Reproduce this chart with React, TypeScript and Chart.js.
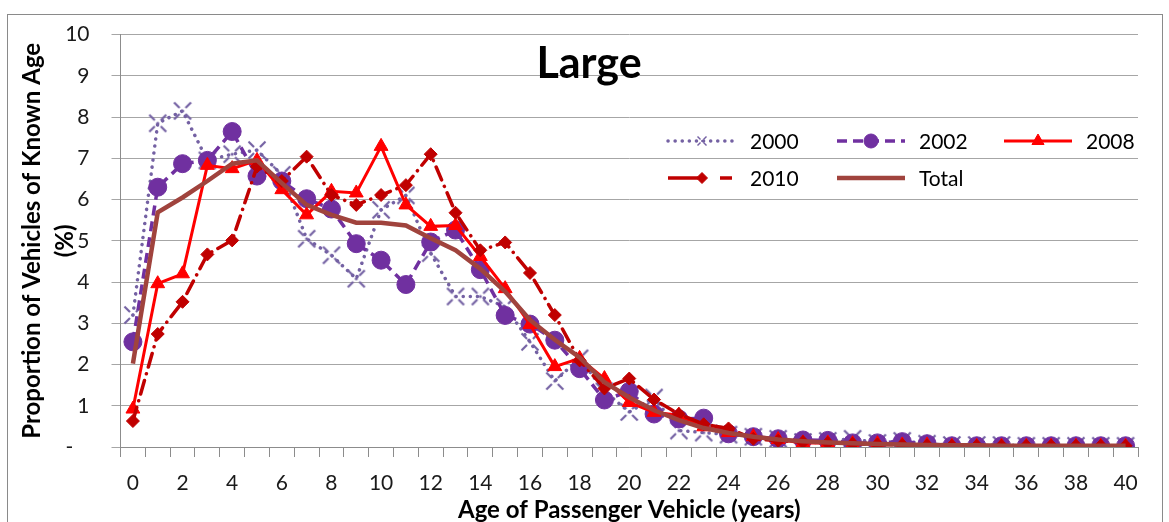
import React, { useEffect, useRef } from 'react';
import { Chart, registerables } from 'chart.js';

Chart.register(...registerables);

const FONT = 'Lato, "Open Sans", sans-serif';

const ages = [
  '0', '1', '2', '3', '4', '5', '6', '7', '8', '9', '10',
  '11', '12', '13', '14', '15', '16', '17', '18', '19', '20',
  '21', '22', '23', '24', '25', '26', '27', '28', '29', '30',
  '31', '32', '33', '34', '35', '36', '37', '38', '39', '40',
];

const s2000 = [
  3.2, 7.85, 8.15, 6.95, 7.1, 7.2, 6.6, 5.05, 4.65, 4.08, 5.75,
  6.1, 4.7, 3.65, 3.65, 3.4, 2.55, 1.6, 2.15, 1.35, 0.85,
  1.2, 0.4, 0.35, 0.3, 0.25, 0.2, 0.12, 0.15, 0.2, 0.1,
  0.15, 0.08, 0.05, 0.05, 0.05, 0.03, 0.03, 0.03, 0.03, 0.03,
];

const s2002 = [
  2.55, 6.3, 6.87, 6.95, 7.65, 6.57, 6.45, 6.02, 5.77, 4.93, 4.53,
  3.94, 4.97, 5.26, 4.3, 3.19, 2.98, 2.59, 1.9, 1.14, 1.35,
  0.8, 0.68, 0.7, 0.32, 0.25, 0.2, 0.17, 0.16, 0.1, 0.1,
  0.13, 0.08, 0.03, 0.03, 0.03, 0.03, 0.03, 0.03, 0.03, 0.03,
];

const s2008 = [
  0.92, 3.96, 4.2, 6.83, 6.75, 6.95, 6.24, 5.63, 6.2, 6.16, 7.29,
  5.87, 5.35, 5.37, 4.62, 3.84, 2.97, 1.95, 2.15, 1.66, 1.08,
  0.84, 0.77, 0.49, 0.35, 0.25, 0.18, 0.1, 0.1, 0.08, 0.08,
  0.05, 0.05, 0.02, 0.02, 0.02, 0.02, 0.02, 0.02, 0.02, 0.02,
];

const s2010 = [
  0.63, 2.74, 3.52, 4.67, 5.01, 6.8, 6.45, 7.04, 6.11, 5.87, 6.11,
  6.35, 7.1, 5.68, 4.77, 4.96, 4.22, 3.2, 2.1, 1.42, 1.66,
  1.15, 0.8, 0.55, 0.45, 0.2, 0.15, 0.12, 0.1, 0.08, 0.06,
  0.05, 0.04, 0.03, 0.03, 0.03, 0.03, 0.03, 0.03, 0.03, 0.03,
];

const sTotal = [
  2.02, 5.69, 6.05, 6.45, 6.87, 6.95, 6.4, 5.87, 5.63, 5.44, 5.44,
  5.37, 5.06, 4.77, 4.32, 3.77, 3.08, 2.6, 2.17, 1.57, 1.2,
  0.89, 0.65, 0.46, 0.34, 0.25, 0.18, 0.14, 0.11, 0.09, 0.07,
  0.06, 0.05, 0.04, 0.04, 0.03, 0.03, 0.03, 0.03, 0.03, 0.03,
];

const seriesNames = ['2000', '2002', '2008', '2010', 'Total'];
const chartTitle = 'Large';
const xTitle = 'Age of Passenger Vehicle (years)';
const yTitle = ['Proportion of Vehicles of Known Age', '(%)'];

const C2000 = '#7461A3';
const C2002 = '#7030A0';
const C2008 = '#FF0000';
const C2010 = '#C00000';
const CTOT = '#A0433D';

function makeXMarker(color: string, size: number, small: boolean) {
  const c = document.createElement('canvas');
  c.width = size;
  c.height = size;
  const ctx = c.getContext('2d')!;
  const m = size / 2;
  const r = m - 1.5;
  ctx.strokeStyle = color;
  ctx.fillStyle = color;
  ctx.lineWidth = small ? 1.4 : 2.2;
  ctx.lineCap = 'butt';
  const dirs = [[1, 1], [1, -1], [-1, 1], [-1, -1]];
  const inner = small ? 1.5 : 3;
  for (const [dx, dy] of dirs) {
    const k = Math.SQRT1_2;
    ctx.beginPath();
    ctx.moveTo(m + dx * inner * k * 1.4, m + dy * inner * k * 1.4);
    ctx.lineTo(m + dx * r, m + dy * r);
    ctx.stroke();
  }
  ctx.beginPath();
  ctx.arc(m, m, small ? 1 : 1.6, 0, Math.PI * 2);
  ctx.fill();
  return c;
}

function drawMarker(ctx: CanvasRenderingContext2D, style: string, x: number, y: number, r: number, color: string) {
  ctx.save();
  ctx.setLineDash([]);
  ctx.fillStyle = color;
  ctx.strokeStyle = color;
  ctx.lineWidth = 1;
  ctx.beginPath();
  if (style === 'circle') {
    ctx.arc(x, y, r, 0, Math.PI * 2);
  } else if (style === 'triangle') {
    ctx.moveTo(x, y - r);
    ctx.lineTo(x + r * 0.866, y + r * 0.5);
    ctx.lineTo(x - r * 0.866, y + r * 0.5);
    ctx.closePath();
  } else if (style === 'diamond') {
    ctx.moveTo(x, y - r);
    ctx.lineTo(x + r, y);
    ctx.lineTo(x, y + r);
    ctx.lineTo(x - r, y);
    ctx.closePath();
  }
  ctx.fill();
  ctx.stroke();
  ctx.restore();
}

export default function App() {
  const ref = useRef<HTMLCanvasElement | null>(null);

  useEffect(() => {
    if (!ref.current) return;
    const xMarker = makeXMarker(C2000, 20, false);
    const xMarkerSmall = makeXMarker(C2000, 12, true);

    const legendPlugin = {
      id: 'customLegend',
      afterDatasetsDraw(chart: any) {
        const ctx: CanvasRenderingContext2D = chart.ctx;
        const items = [
          { name: seriesNames[0], x: 668, y: 141, color: C2000, width: 3.5, dash: [0.1, 7], cap: 'round', marker: 'x', r: 6 },
          { name: seriesNames[1], x: 837, y: 141, color: C2002, width: 3.5, dash: [10, 6], cap: 'butt', marker: 'circle', r: 7 },
          { name: seriesNames[2], x: 1004, y: 141, color: C2008, width: 3, dash: [], cap: 'butt', marker: 'triangle', r: 7 },
          { name: seriesNames[3], x: 668, y: 178, color: C2010, width: 3.5, dash: [30, 22, 12, 4], cap: 'butt', marker: 'diamond', r: 5.5 },
          { name: seriesNames[4], x: 837, y: 178, color: CTOT, width: 4.5, dash: [], cap: 'butt', marker: '', r: 0 },
        ];
        ctx.save();
        for (const it of items) {
          ctx.save();
          ctx.strokeStyle = it.color;
          ctx.lineWidth = it.width;
          ctx.lineCap = it.cap as CanvasLineCap;
          ctx.setLineDash(it.dash);
          ctx.beginPath();
          ctx.moveTo(it.x, it.y);
          ctx.lineTo(it.x + 68, it.y);
          ctx.stroke();
          ctx.restore();
          const mx = it.x + 34;
          if (it.marker === 'x') {
            ctx.drawImage(xMarkerSmall, mx - 6, it.y - 6);
          } else if (it.marker) {
            drawMarker(ctx, it.marker, mx, it.y, it.r, it.color);
          }
          ctx.fillStyle = '#000';
          ctx.font = `21px ${FONT}`;
          ctx.textAlign = 'left';
          ctx.textBaseline = 'middle';
          ctx.fillText(it.name, it.x + 82, it.y + 1);
        }
        ctx.fillStyle = '#000';
        ctx.font = `bold 43px ${FONT}`;
        ctx.textAlign = 'center';
        ctx.textBaseline = 'middle';
        ctx.fillText(chartTitle, 589, 64);
        ctx.restore();
      },
    };

    const chart = new Chart(ref.current, {
      type: 'line',
      data: {
        labels: ages,
        datasets: [
          {
            label: seriesNames[0], data: s2000, borderColor: C2000, backgroundColor: C2000,
            borderWidth: 3.5, borderDash: [0.1, 7], borderCapStyle: 'round',
            pointStyle: xMarker as any, pointRadius: 10, pointHoverRadius: 10, order: 4, tension: 0,
          },
          {
            label: seriesNames[1], data: s2002, borderColor: C2002, backgroundColor: C2002,
            borderWidth: 3.5, borderDash: [10, 6], pointStyle: 'circle',
            pointRadius: 9, pointBorderWidth: 1, pointBorderColor: C2002, pointBackgroundColor: C2002, order: 3, tension: 0,
          },
          {
            label: seriesNames[2], data: s2008, borderColor: C2008, backgroundColor: C2008,
            borderWidth: 3, pointStyle: 'triangle',
            pointRadius: 8, pointBorderWidth: 1, pointBorderColor: C2008, pointBackgroundColor: C2008, order: 2, tension: 0,
          },
          {
            label: seriesNames[3], data: s2010, borderColor: C2010, backgroundColor: C2010,
            borderWidth: 3.5, borderDash: [14, 7, 0.1, 7], borderCapStyle: 'round', pointStyle: 'rectRot',
            pointRadius: 6.5, pointBorderWidth: 1, pointBorderColor: C2010, pointBackgroundColor: C2010, order: 1, tension: 0,
          },
          {
            label: seriesNames[4], data: sTotal, borderColor: CTOT, backgroundColor: CTOT,
            borderWidth: 4.5, pointRadius: 0, pointHoverRadius: 0, order: 0, tension: 0,
          },
        ],
      },
      options: {
        responsive: false,
        animation: false,
        devicePixelRatio: 1,
        layout: { padding: { top: 29.5, right: 31, bottom: 0, left: 0 } },
        plugins: {
          legend: { display: false },
          title: { display: false },
          tooltip: { enabled: false },
        },
        scales: {
          x: {
            type: 'category',
            offset: true,
            grid: {
              display: true, drawOnChartArea: false, drawTicks: true, tickLength: 10,
              offset: true, color: '#8c8c8c', lineWidth: 1,
            },
            border: { display: true, color: '#8c8c8c', width: 1 },
            ticks: {
              autoSkip: false, maxRotation: 0, minRotation: 0, padding: 14, color: '#1a1a1a',
              font: { family: FONT, size: 21 },
              callback: (_v: any, i: number) => (i % 2 === 0 ? ages[i] : ''),
            },
            title: {
              display: true, text: xTitle, color: '#000',
              font: { family: FONT, size: 24, weight: 'bold', lineHeight: 1.0 },
              padding: { top: 0, bottom: 0 },
            },
            afterFit: (s: any) => { s.height = 75; },
          },
          y: {
            min: 0, max: 10,
            grid: { color: '#a6a6a6', lineWidth: 1, tickLength: 9, drawTicks: true },
            border: { display: true, color: '#8c8c8c', width: 1 },
            ticks: {
              stepSize: 1, padding: 22, color: '#1a1a1a',
              font: { family: FONT, size: 21 },
              callback: (v: any) => (Number(v) === 0 ? '-   ' : String(v)),
            },
            title: {
              display: true, text: yTitle, color: '#000',
              font: { family: FONT, size: 24, weight: 'bold', lineHeight: 1.375 },
              padding: { top: 15.5, bottom: 0 },
            },
            afterFit: (s: any) => { s.width = 120.5; },
          },
        },
      } as any,
      plugins: [legendPlugin],
    });
    return () => chart.destroy();
  }, []);

  return (
    <div style={{ position: 'fixed', left: 0, top: 0, width: 1169, height: 522, overflow: 'hidden', background: '#fff' }}>
      <div style={{ position: 'absolute', left: 7, top: 14, width: 1156, height: 600, border: '1px solid #8a8a8a', boxSizing: 'border-box' }} />
      <canvas ref={ref} width={1169} height={522} style={{ position: 'absolute', left: 0, top: 0, width: 1169, height: 522 }} />
    </div>
  );
}
